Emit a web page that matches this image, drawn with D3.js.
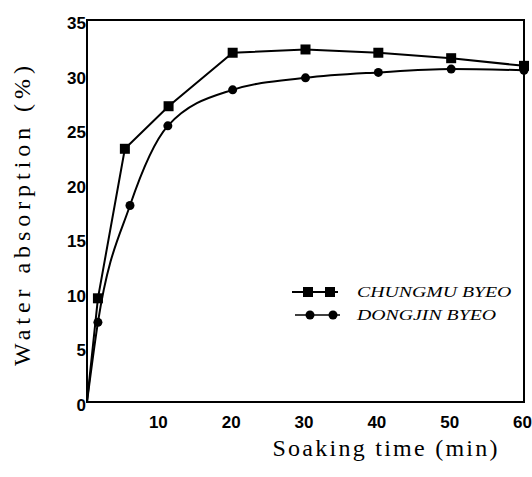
<!DOCTYPE html>
<html>
<head>
<meta charset="UTF-8">
<script src="https://cdn.jsdelivr.net/npm/d3@7/dist/d3.min.js"></script>
<style>
body{
    margin:0;
    background:#fff;
}
</style>
</head>
<body>
<script>
// soaking time (min) and water absorption (%)
var chungmuTime = [0, 1.5, 5.2, 11.2, 20, 30, 40, 50, 60]
var chungmuWater = [0, 9.5, 23.2, 27.1, 32.0, 32.3, 32.0, 31.5, 30.8]
var dongjinTime = [0, 1.5, 5.9, 11.1, 20, 30, 40, 50, 60]
var dongjinWater = [0, 7.3, 18.0, 25.3, 28.6, 29.7, 30.2, 30.5, 30.4]
var xTicks = [10, 20, 30, 40, 50, 60]
var yTicks = [0, 5, 10, 15, 20, 25, 30, 35]
var legendNames = ["CHUNGMU BYEO", "DONGJIN BYEO"]

var width = 532
var height = 477

var svg = d3.select('body')
    .append('svg')
    .attr('width', width)
    .attr('height', height)

var x = d3.scaleLinear().domain([0, 60]).range([87, 524])
var y = d3.scaleLinear().domain([0, 35]).range([402, 20])

// frame
svg.append("rect")
    .attr("x", x(0))
    .attr("y", y(35))
    .attr("width", x(60) - x(0))
    .attr("height", y(0) - y(35))
    .attr("fill", "none")
    .attr("stroke", "#000")
    .attr("stroke-width", 2)

var yAxis = svg.append("g")
    .attr("transform", "translate(" + (x(0) + 1) + ",3)")
    .call(d3.axisLeft(y).tickValues(yTicks).tickSize(0).tickPadding(2))
yAxis.select(".domain").remove()
yAxis.selectAll("text")
    .attr("font-family", "Liberation Sans, Arial, sans-serif")
    .attr("font-weight", "bold")
    .attr("font-size", 17)
    .attr("fill", "#000")

var xAxis = svg.append("g")
    .attr("transform", "translate(-2," + (y(0) + 12) + ")")
    .call(d3.axisBottom(x).tickValues(xTicks).tickSize(0).tickPadding(2))
xAxis.select(".domain").remove()
xAxis.selectAll("text")
    .attr("font-family", "Liberation Sans, Arial, sans-serif")
    .attr("font-weight", "bold")
    .attr("font-size", 17)
    .attr("fill", "#000")

var lineStraight = d3.line()
    .x(function(d){ return x(d[0]) })
    .y(function(d){ return y(d[1]) })
var lineSmooth = d3.line()
    .x(function(d){ return x(d[0]) })
    .y(function(d){ return y(d[1]) })
    .curve(d3.curveMonotoneX)

var chungmu = chungmuTime.map(function(t, i){ return [t, chungmuWater[i]] })
var dongjin = dongjinTime.map(function(t, i){ return [t, dongjinWater[i]] })

svg.append("path")
    .attr("d", lineStraight(chungmu))
    .attr("fill", "none")
    .attr("stroke", "#000")
    .attr("stroke-width", 2)
svg.append("path")
    .attr("d", lineSmooth(dongjin))
    .attr("fill", "none")
    .attr("stroke", "#000")
    .attr("stroke-width", 2)

var sq = 10
svg.selectAll(".sq")
    .data(chungmu.slice(1))
    .enter().append("rect")
    .attr("class", "sq")
    .attr("x", function(d){ return x(d[0]) - sq/2 })
    .attr("y", function(d){ return y(d[1]) - sq/2 })
    .attr("width", sq)
    .attr("height", sq)
    .attr("fill", "#000")

svg.selectAll(".dot")
    .data(dongjin.slice(1))
    .enter().append("circle")
    .attr("class", "dot")
    .attr("cx", function(d){ return x(d[0]) })
    .attr("cy", function(d){ return y(d[1]) })
    .attr("r", 4.5)
    .attr("fill", "#000")

// legend
var leg = svg.append("g")
leg.append("line").attr("x1", 292).attr("x2", 338).attr("y1", 292).attr("y2", 292)
    .attr("stroke", "#000").attr("stroke-width", 2)
leg.selectAll(".lsq").data([308, 330]).enter().append("rect")
    .attr("x", function(d){ return d - sq/2 }).attr("y", 292 - sq/2)
    .attr("width", sq).attr("height", sq).attr("fill", "#000")
leg.append("line").attr("x1", 295).attr("x2", 340).attr("y1", 315).attr("y2", 315)
    .attr("stroke", "#000").attr("stroke-width", 1.5)
leg.selectAll(".ldot").data([310, 333]).enter().append("circle")
    .attr("cx", function(d){ return d }).attr("cy", 315).attr("r", 4.5).attr("fill", "#000")
leg.selectAll(".ltext").data(legendNames).enter().append("text")
    .attr("transform", function(d, i){ return "translate(357," + (i == 0 ? 297 : 320) + ") scale(1.32,1)" })
    .attr("font-family", "Liberation Serif, Times New Roman, serif")
    .attr("font-style", "italic")
    .attr("font-size", 15)
    .text(function(d){ return d })

// axis titles
svg.append("text")
    .attr("transform", "translate(30,216) rotate(-90)")
    .attr("text-anchor", "middle")
    .attr("font-family", "Liberation Serif, Times New Roman, serif")
    .attr("font-size", 24)
    .attr("textLength", 300)
    .attr("lengthAdjust", "spacing")
    .text("Water absorption (%)")

svg.append("text")
    .attr("x", 385)
    .attr("y", 456)
    .attr("text-anchor", "middle")
    .attr("font-family", "Liberation Serif, Times New Roman, serif")
    .attr("font-size", 24)
    .attr("textLength", 225)
    .attr("lengthAdjust", "spacing")
    .text("Soaking time (min)")
</script>
</body>
</html>
